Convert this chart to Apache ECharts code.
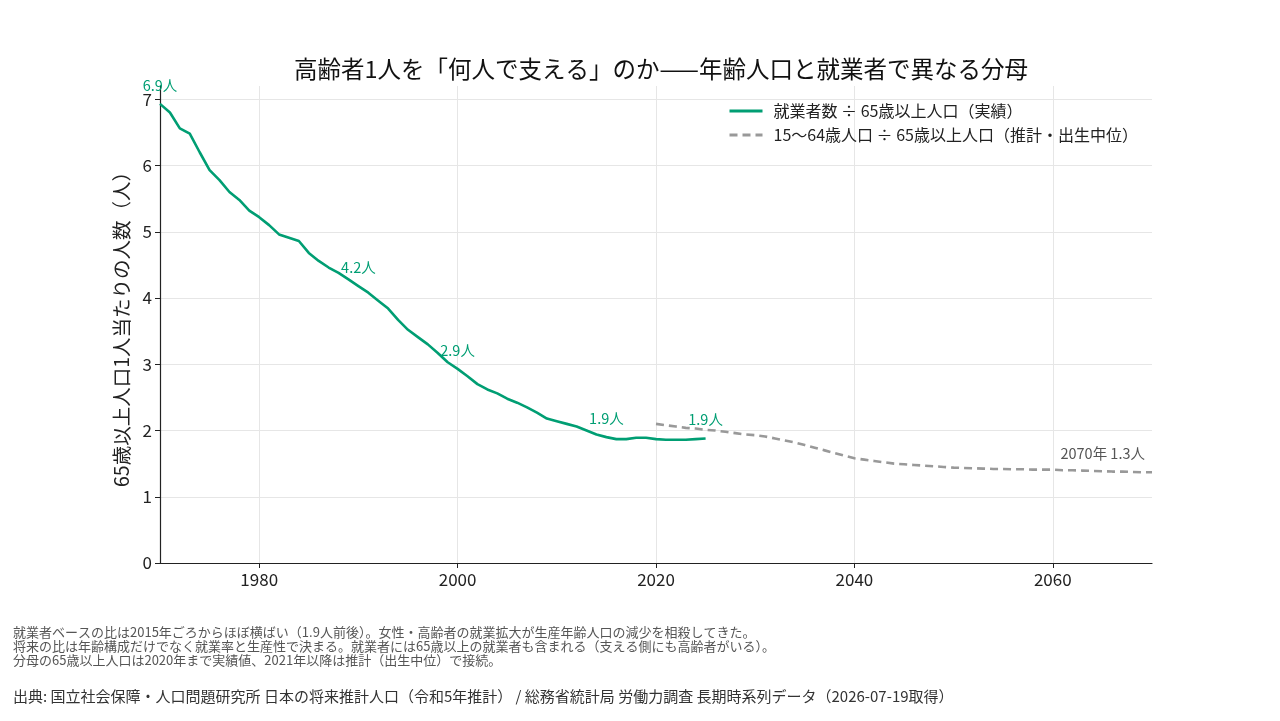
<!DOCTYPE html>
<html>
<head>
<meta charset="utf-8">
<script src="https://cdn.jsdelivr.net/npm/echarts@6/dist/echarts.min.js"></script>
<style>
  html, body { margin: 0; padding: 0; background: #fff; }
  #chart { width: 1280px; height: 721px; }
</style>
</head>
<body>
<div id="chart"></div>
<script>
// 就業者数 ÷ 65歳以上人口（実績）
const workerYears = [
  1970, 1971, 1972, 1973, 1974, 1975, 1976, 1977, 1978, 1979,
  1980, 1981, 1982, 1983, 1984, 1985, 1986, 1987, 1988, 1989,
  1990, 1991, 1992, 1993, 1994, 1995, 1996, 1997, 1998, 1999,
  2000, 2001, 2002, 2003, 2004, 2005, 2006, 2007, 2008, 2009,
  2010, 2011, 2012, 2013, 2014, 2015, 2016, 2017, 2018, 2019,
  2020, 2021, 2022, 2023, 2024, 2025
]
const workerRatio = [
  6.93, 6.80, 6.56, 6.48, 6.20, 5.93, 5.78, 5.60, 5.48, 5.32,
  5.22, 5.10, 4.96, 4.91, 4.86, 4.68, 4.56, 4.46, 4.38, 4.28,
  4.18, 4.08, 3.96, 3.84, 3.67, 3.52, 3.41, 3.30, 3.17, 3.03,
  2.93, 2.82, 2.70, 2.62, 2.56, 2.48, 2.42, 2.35, 2.27, 2.18,
  2.14, 2.10, 2.06, 2.00, 1.94, 1.90, 1.87, 1.87, 1.89, 1.89,
  1.87, 1.86, 1.86, 1.86, 1.87, 1.88
]

// 15〜64歳人口 ÷ 65歳以上人口（推計・出生中位）
const projYears = [
  2020, 2021, 2022, 2023, 2024, 2025, 2026, 2027, 2028, 2029,
  2030, 2031, 2032, 2033, 2034, 2035, 2036, 2037, 2038, 2039,
  2040, 2041, 2042, 2043, 2044, 2045, 2046, 2047, 2048, 2049,
  2050, 2051, 2052, 2053, 2054, 2055, 2056, 2057, 2058, 2059,
  2060, 2061, 2062, 2063, 2064, 2065, 2066, 2067, 2068, 2069,
  2070
]
const projRatio = [
  2.10, 2.08, 2.06, 2.04, 2.03, 2.01, 2.00, 1.98, 1.96, 1.94,
  1.93, 1.91, 1.88, 1.85, 1.82, 1.78, 1.74, 1.70, 1.66, 1.62,
  1.58, 1.56, 1.54, 1.52, 1.50, 1.49, 1.48, 1.47, 1.46, 1.45,
  1.44, 1.435, 1.43, 1.425, 1.42, 1.42, 1.415, 1.415, 1.41, 1.41,
  1.41, 1.40, 1.40, 1.395, 1.39, 1.385, 1.38, 1.38, 1.375, 1.37,
  1.37
]

// 注記を付ける年とラベル
const workerNoteYears = [1970, 1990, 2000, 2015, 2025]
const workerNoteTexts = ["6.9人", "4.2人", "2.9人", "1.9人", "1.9人"]
const projNoteYear = 2070
const projNoteText = "2070年 1.3人"

const xTicks = [1980, 2000, 2020, 2040, 2060]
const yTicks = [0, 1, 2, 3, 4, 5, 6, 7]

const FONT = "'Noto Sans CJK JP', 'Noto Sans', sans-serif"
const GREEN = "#009E73"
const GRAY = "#999999"

const notes = [
  "就業者ベースの比は2015年ごろからほぼ横ばい（1.9人前後）。女性・高齢者の就業拡大が生産年齢人口の減少を相殺してきた。",
  "将来の比は年齢構成だけでなく就業率と生産性で決まる。就業者には65歳以上の就業者も含まれる（支える側にも高齢者がいる）。",
  "分母の65歳以上人口は2020年まで実績値、2021年以降は推計（出生中位）で接続。",
]
const source = "出典: 国立社会保障・人口問題研究所 日本の将来推計人口（令和5年推計） / 総務省統計局 労働力調査 長期時系列データ（2026-07-19取得）"

const chart = echarts.init(document.getElementById("chart"))

const workerMarks = workerNoteYears.map((y, i) => ({
  coord: [y, workerRatio[workerYears.indexOf(y)]],
  label: { formatter: workerNoteTexts[i] },
}))

const option = {
  animation: false,
  textStyle: { fontFamily: FONT },
  title: {
    text: "高齢者1人を「何人で支える」のか——年齢人口と就業者で異なる分母",
    left: 656,
    textAlign: "center",
    top: 52,
    textStyle: { fontSize: 23.5, fontWeight: "normal", color: "#111", fontFamily: FONT },
  },
  legend: {
    orient: "vertical",
    left: 723,
    top: 98,
    itemWidth: 33,
    itemHeight: 12,
    itemGap: 8,
    itemStyle: { opacity: 0 },
    lineStyle: { width: 3 },
    textStyle: { fontSize: 16, color: "#222", fontFamily: FONT, padding: [0, 0, 0, 6] },
    data: ["就業者数 ÷ 65歳以上人口（実績）", "15〜64歳人口 ÷ 65歳以上人口（推計・出生中位）"],
  },
  grid: { left: 160, right: 128, top: 86, bottom: 158 },
  xAxis: {
    type: "value",
    min: 1970,
    max: 2070,
    axisLine: { lineStyle: { color: "#222", width: 1.2 } },
    axisTick: { show: true, length: 5, customValues: xTicks, lineStyle: { color: "#222" } },
    axisLabel: {
      customValues: xTicks, fontSize: 17, color: "#222", margin: 8, fontFamily: FONT,
      formatter: (v) => String(v),
    },
    splitLine: { show: true, lineStyle: { color: "#e6e6e6", width: 1 } },
  },
  yAxis: {
    type: "value",
    min: 0,
    max: 7.2,
    name: "65歳以上人口1人当たりの人数（人）",
    nameLocation: "middle",
    nameGap: 28,
    nameTextStyle: { fontSize: 19.5, color: "#222", fontFamily: FONT },
    axisLine: { show: true, lineStyle: { color: "#222", width: 1.2 } },
    axisTick: { show: true, length: 5, customValues: yTicks, lineStyle: { color: "#222" } },
    axisLabel: { customValues: yTicks, fontSize: 17, color: "#222", margin: 8, fontFamily: FONT },
    splitLine: { show: true, lineStyle: { color: "#e6e6e6", width: 1 } },
  },
  series: [
    {
      name: "就業者数 ÷ 65歳以上人口（実績）",
      type: "line",
      symbol: "none",
      data: workerYears.map((y, i) => [y, workerRatio[i]]),
      lineStyle: { color: GREEN, width: 2.6 },
      itemStyle: { color: GREEN },
      z: 3,
      markPoint: {
        symbol: "circle",
        symbolSize: 1,
        itemStyle: { color: "rgba(0,0,0,0)" },
        label: { show: true, position: "top", distance: 11, color: GREEN, fontSize: 14.5, fontFamily: FONT },
        data: workerMarks,
      },
    },
    {
      name: "15〜64歳人口 ÷ 65歳以上人口（推計・出生中位）",
      type: "line",
      symbol: "none",
      data: projYears.map((y, i) => [y, projRatio[i]]),
      lineStyle: { color: GRAY, width: 2.6, type: [8, 5] },
      itemStyle: { color: GRAY },
      z: 2,
      markPoint: {
        symbol: "circle",
        symbolSize: 1,
        itemStyle: { color: "rgba(0,0,0,0)" },
        label: {
          show: true, position: "top", distance: 11, align: "right", offset: [-7, 0],
          color: "#555", fontSize: 14.5, fontFamily: FONT,
        },
        data: [{ coord: [projNoteYear, projRatio[projYears.indexOf(projNoteYear)]], label: { formatter: projNoteText } }],
      },
    },
  ],
  graphic: [
    ...notes.map((t, i) => ({
      type: "text",
      left: 13,
      top: 626 + i * 14,
      style: { text: t, fontSize: 13, fill: "#555", fontFamily: FONT },
    })),
    {
      type: "text",
      left: 13,
      top: 689,
      style: { text: source, fontSize: 15, fill: "#333", fontFamily: FONT },
    },
  ],
}

chart.setOption(option)
</script>
</body>
</html>
